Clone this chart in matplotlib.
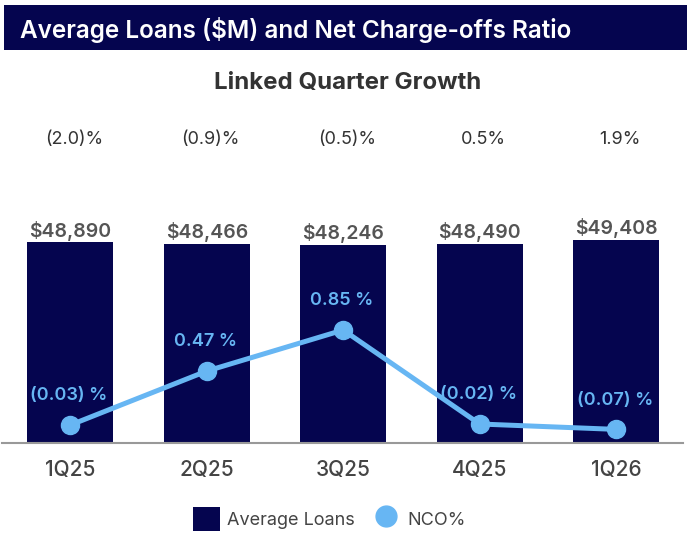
import matplotlib.pyplot as plt
from matplotlib.patches import Rectangle, Patch
from matplotlib.lines import Line2D

plt.rcParams['font.family'] = ['Inter', 'DejaVu Sans']

NAVY = '#05054f'
BLUE = '#67b6f3'

quarters = ['1Q25', '2Q25', '3Q25', '4Q25', '1Q26']
avg_loans = [48890, 48466, 48246, 48490, 49408]
nco_pct = [-0.03, 0.47, 0.85, -0.02, -0.07]
growth = ['(2.0)%', '(0.9)%', '(0.5)%', '0.5%', '1.9%']


def pct_label(v):
    if v < 0:
        return '({:.2f}) %'.format(-v)
    return '{:.2f} %'.format(v)


fig = plt.figure(figsize=(6.91, 5.44), dpi=100)

# header banner
fig.patches.append(Rectangle((4 / 691, 1 - 50 / 544), 683 / 691, 45 / 544,
                             transform=fig.transFigure, facecolor=NAVY,
                             edgecolor='none'))
fig.text(20 / 691, 1 - 30 / 544, 'Average Loans ($M) and Net Charge-offs Ratio',
         color='white', fontsize=17.5, fontweight='semibold', va='center')
fig.text(348 / 691, 1 - 83 / 544, 'Linked Quarter Growth', color='#333333',
         fontsize=17.3, fontweight='bold', ha='center', va='center')

ax = fig.add_axes([2 / 691, 101 / 544, 681 / 691, 343 / 544])
x = list(range(len(quarters)))
bars = ax.bar(x, avg_loans, width=0.63, color=NAVY, zorder=2)
ax.set_xlim(-0.5, 4.49)
ax.set_ylim(0, 83430)

for xi, v in zip(x, avg_loans):
    ax.annotate('${:,}'.format(v), (xi, v), xytext=(0, 1), textcoords='offset points',
                ha='center', va='bottom', fontsize=14, fontweight='semibold',
                color='#555555')

for xi, g in zip(x, growth):
    ax.text(xi + 0.03, 1 - 40 / 343, g, transform=ax.get_xaxis_transform(),
            ha='center', va='center', fontsize=13, color='#333333')

for s in ['top', 'right', 'left']:
    ax.spines[s].set_visible(False)
ax.spines['bottom'].set_color('#999999')
ax.spines['bottom'].set_linewidth(1.5)
ax.set_yticks([])
ax.set_xticks(x)
ax.set_xticklabels(quarters, fontsize=15, color='#444444', fontweight='medium')
ax.tick_params(axis='x', length=0, pad=12)

ax2 = ax.twinx()
ax2.set_ylim(-0.196, 2.98)
ax2.plot(x, nco_pct, color=BLUE, lw=3.6, marker='o', markersize=13, zorder=3)
for xi, v in zip(x, nco_pct):
    ax2.annotate(pct_label(v), (xi, v), xytext=(-1, 21), textcoords='offset points',
                 ha='center', va='center', fontsize=13, fontweight='semibold',
                 color=BLUE)
ax2.axis('off')

handles = [Patch(facecolor=NAVY, edgecolor='none'),
           Line2D([], [], color=BLUE, lw=0, marker='o', markersize=15)]
fig.legend(handles, ['Average Loans', 'NCO%'], loc='center',
           bbox_to_anchor=(329 / 691, 1 - 519 / 544), ncol=2, frameon=False,
           fontsize=13, labelcolor='#444444', handlelength=1.5, handleheight=1.6,
           columnspacing=1.0, handletextpad=0.4)

fig.savefig('out.png', dpi=100)
